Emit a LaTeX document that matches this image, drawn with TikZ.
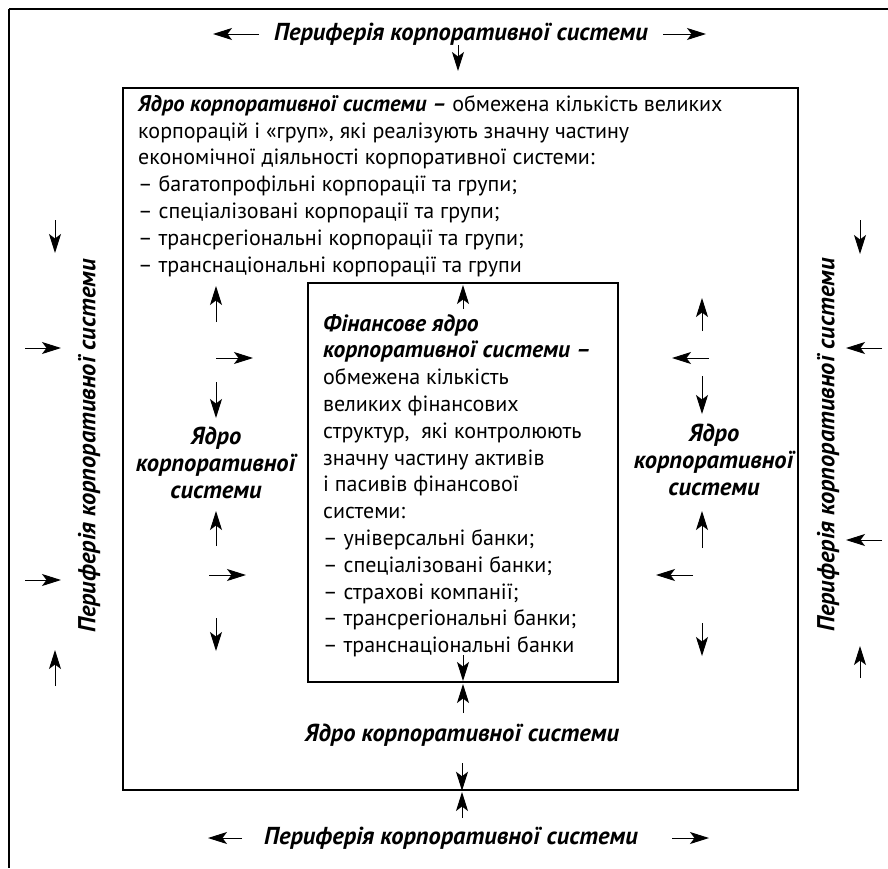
\documentclass[tikz,border=0pt]{standalone}
\usepackage{fontspec}
\setmainfont{PT Sans}
\usetikzlibrary{arrows.meta,positioning,calc}

\begin{document}
\begin{tikzpicture}[x=1pt,y=-1pt,
    frame/.style={draw, line width=1.5pt, inner sep=0pt},
    arr/.style={line width=1pt, arrows={-Stealth[length=19pt,width=12pt,inset=4.5pt]}},
    bi/.style={font=\fontsize{24.5}{26.8}\selectfont\bfseries\itshape, inner sep=0pt},
    txt/.style={font=\fontsize{22}{26.8}\selectfont, align=left, inner sep=0pt, anchor=north west}]
    \useasboundingbox (0,0) rectangle (888,868);
    \draw[line width=1.5pt] (9,9) -- (888,9); % outer frame, cut at right and bottom
    \draw[line width=1.5pt] (9,9) -- (9,868);

    \node[frame, minimum width=675pt, minimum height=702pt] (core) at (460.5,439) {};
    \node[frame, minimum width=310pt, minimum height=399pt] (fin) at (463,482.5) {};

    % texts
    \node[txt] (coretxt) at (138,95) {{\fontsize{22.5}{26.8}\selectfont\bfseries\itshape Ядро корпоративної системи –} обмежена кількість великих\\
        корпорацій і «груп», які реалізують значну частину\\
        економічної діяльності корпоративної системи:\\
        – багатопрофільні корпорації та групи;\\
        – спеціалізовані корпорації та групи;\\
        – трансрегіональні корпорації та групи;\\
        – транснаціональні корпорації та групи};
    \node[txt] (fintxt) at (323,314) {{\fontsize{23.5}{26.8}\selectfont\bfseries\itshape Фінансове ядро}\\
        {\fontsize{23.5}{26.8}\selectfont\bfseries\itshape корпоративної системи –}\\
        обмежена кількість\\
        великих фінансових\\
        структур,\ \ які контролюють\\
        значну частину активів\\
        і пасивів фінансової\\
        системи:\\
        – універсальні банки;\\
        – спеціалізовані банки;\\
        – страхові компанії;\\
        – трансрегіональні банки;\\
        – транснаціональні банки};

    \node[bi] (peritop) at (461,34) {Периферія корпоративної системи};
    \node[bi] (peribot) at (451,838) {Периферія корпоративної системи};
    \node[bi, rotate=90] (perileft) at (89,446) {Периферія корпоративної системи};
    \node[bi, rotate=90] (periright) at (828,445) {Периферія корпоративної системи};
    \node[bi] (corebot) at (462,735) {Ядро корпоративної системи};
    \node[bi, align=center] (coreleft) at (216,463) {Ядро\\корпоративної\\системи};
    \node[bi, align=center] (coreright) at (714,460) {Ядро\\корпоративної\\системи};

    % arrows
    \foreach \a/\b in {259/213, 663/706} \draw[arr] (\a,34) -- (\b,34);
    \foreach \a/\b in {242/208, 672/709} \draw[arr] (\a,838) -- (\b,838);
    \draw[arr] (458,45) -- (458,71);
    \draw[arr] (462,763) -- (core.south -| 462,0);
    \draw[arr] (462,818) -- (462,792);
    \draw[arr] (463,309) -- (463,285);
    \draw[arr] (463,655) -- (463,681);
    \draw[arr] (463,713) -- (463,684);
    % outer columns
    \draw[arr] (55,220) -- (55,253);
    \foreach \y in {348,580} \draw[arr] (25,\y) -- (61,\y);
    \draw[arr] (55,686) -- (55,650);
    \draw[arr] (860,220) -- (860,254);
    \foreach \y in {348,540} \draw[arr] (882,\y) -- (846,\y);
    \draw[arr] (860,678) -- (860,646);
    % core columns
    \foreach \a/\b in {322/286, 382/418, 546/511, 618/651} \draw[arr] (216,\a) -- (216,\b);
    \draw[arr] (216,358) -- (253,358);
    \draw[arr] (209,575) -- (246,575);
    \foreach \a/\b in {331/298, 376/414, 548/511, 623/656} \draw[arr] (702,\a) -- (702,\b);
    \draw[arr] (709,358) -- (672,358);
    \draw[arr] (693,575) -- (656,575);
\end{tikzpicture}
\end{document}
